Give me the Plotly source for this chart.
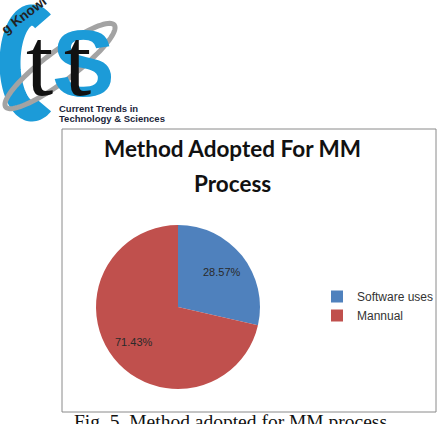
import numpy as np
import plotly.graph_objects as go

labels = ["Software uses", "Mannual"]
values = [28.57, 71.43]
colors = ["#4F81BD", "#C0504D"]
title_lines = ["Method Adopted For MM", "Process"]
caption = "Fig. 5. Method adopted for MM process"

W, H = 443, 424
def px(x): return x / W
def py(y): return 1 - y / H

fig = go.Figure()
cx, cy, r = 178, 307, 82
fig.add_trace(go.Pie(
    labels=labels, values=values, sort=False, direction="clockwise", rotation=0,
    marker=dict(colors=colors, line=dict(color="white", width=0)),
    textinfo="none",
    domain=dict(x=[px(cx - r), px(cx + r)], y=[py(cy + r), py(cy - r)]),
    hoverinfo="label+percent",
))

def ann(text, x, y, size, family, color, xanchor="center", yanchor="middle", **kw):
    return dict(text=text, x=px(x), y=py(y), xref="paper", yref="paper", showarrow=False,
                xanchor=xanchor, yanchor=yanchor, font=dict(family=family, size=size, color=color), **kw)

annotations = []
# percent labels placed at slice mid-angles, computed from the values
tot = sum(values)
cum = 0
for v in values:
    mid = (cum + v / 2) / tot * 2 * np.pi
    cum += v
    rr = 0.68 * r
    annotations.append(ann(f"{v / tot * 100:.2f}%", cx + rr * np.sin(mid), cy - rr * np.cos(mid),
                           11, "Liberation Sans", "#2a2a2a"))

shapes = [dict(type="rect", xref="paper", yref="paper", x0=px(62), x1=px(436), y0=py(412), y1=py(129),
               line=dict(color="#8a8a8a", width=1), fillcolor="rgba(0,0,0,0)", layer="below")]

def ellipse_path(ex, ey, a, b, ang_deg, t0=0, t1=2 * np.pi, closed=True):
    t = np.linspace(t0, t1, 90)
    ang = np.deg2rad(ang_deg)
    xs = ex + a * np.cos(t) * np.cos(ang) - b * np.sin(t) * np.sin(ang)
    ys = ey + a * np.cos(t) * np.sin(ang) + b * np.sin(t) * np.cos(ang)
    p = "M " + " L ".join(f"{px(x):.4f},{py(y):.4f}" for x, y in zip(xs, ys))
    return p + (" Z" if closed else "")

# logo: big blue C as thick arc
shapes.append(dict(type="path", xref="paper", yref="paper",
                   path=ellipse_path(32, 63, 22, 48, 0, np.deg2rad(-60), np.deg2rad(-300), closed=False),
                   line=dict(color="#1C9BD8", width=21), layer="above"))
# logo swoosh
shapes.append(dict(type="path", xref="paper", yref="paper", path=ellipse_path(60, 66, 68, 15, -37),
                   line=dict(color="#a3a3a3", width=5), layer="above"))

annotations += [
    ann("<b>S</b>", 83, 64, 94, "Liberation Sans", "#1C9BD8"),
    ann("t", 39, 62, 98, "Liberation Serif", "#111"),
    ann("t", 77, 62, 98, "Liberation Serif", "#111"),
    ann("<b>g Knowl</b>", 24, 16, 13.5, "Liberation Sans", "#222", textangle=-37),
    ann("<b>Current Trends in</b>", 57, 108, 9.5, "Liberation Sans", "#1b1f3a", xanchor="left"),
    ann("<b>Technology &amp; Sciences</b>", 57, 118, 9.5, "Liberation Sans", "#1b1f3a", xanchor="left"),
    ann(f"<b>{title_lines[0]}</b>", 232, 148, 22.5, "Lato", "#111"),
    ann(f"<b>{title_lines[1]}</b>", 232, 183, 22.5, "Lato", "#111"),
    ann(caption, 230, 409, 19.5, "Liberation Serif", "#111", yanchor="top"),
]

fig.update_layout(
    width=W, height=H, margin=dict(l=0, r=0, t=0, b=0),
    paper_bgcolor="white", plot_bgcolor="white",
    shapes=shapes, annotations=annotations,
    legend=dict(x=px(317), y=py(306), xanchor="left", yanchor="middle",
                font=dict(family="Liberation Sans", size=12, color="#333"),
                itemwidth=30, bgcolor="rgba(0,0,0,0)"),
    showlegend=True,
)
fig.write_html("out.html")
